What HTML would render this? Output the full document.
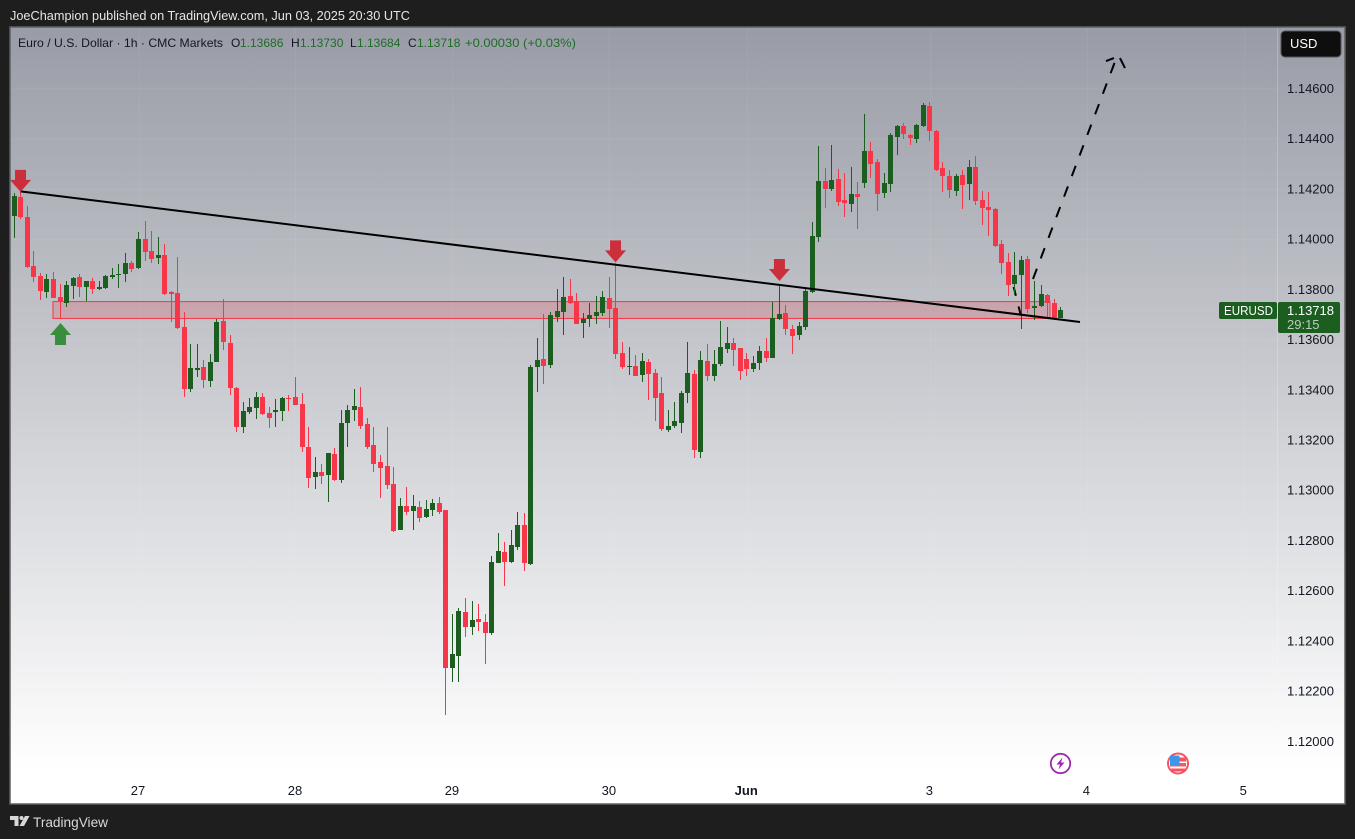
<!DOCTYPE html>
<html lang="en">
<head>
<meta charset="utf-8">
<title>EURUSD 1h chart</title>
<style>
html,body{margin:0;padding:0;background:#1e1e1e;}
body{width:1355px;height:839px;overflow:hidden;}
svg{display:block;font-family:"Liberation Sans",sans-serif;}
</style>
</head>
<body>
<svg id="chart" xmlns="http://www.w3.org/2000/svg" width="1355" height="839" viewBox="0 0 1355 839">
  <defs>
    <linearGradient id="bg" x1="0" y1="0" x2="0" y2="1">
      <stop offset="0" stop-color="#999ca6"/>
      <stop offset="0.957" stop-color="#ffffff"/>
      <stop offset="1" stop-color="#ffffff"/>
    </linearGradient>
    <clipPath id="plotClip"><rect x="11" y="28" width="1266" height="775"/></clipPath>
  </defs>
  <rect x="0" y="0" width="1355" height="839" fill="#1e1e1e"/>
  <text x="10" y="20" font-size="12.5" fill="#e6e6e6" textLength="400" lengthAdjust="spacingAndGlyphs">JoeChampion published on TradingView.com, Jun 03, 2025 20:30 UTC</text>
  <rect x="10" y="27" width="1335" height="777" fill="url(#bg)" stroke="#5f6064" stroke-width="1.5"/>
  <g id="grid"></g>
  <line x1="1277.5" y1="28" x2="1277.5" y2="803" stroke="#ffffff" stroke-opacity="0.22"/>
  <g clip-path="url(#plotClip)">
    <g id="zone"></g>
    <g id="dashes"></g>
    <g id="candles" shape-rendering="crispEdges"></g>
    <g id="trend"></g>
    <g id="arrows"></g>
  </g>
  <g id="priceAxis" font-size="13" fill="#131722"></g>
  <g id="dateAxis" font-size="13" fill="#131722"></g>

  <g font-size="12">
    <text x="18" y="47" fill="#131722" textLength="205" lengthAdjust="spacingAndGlyphs">Euro / U.S. Dollar · 1h · CMC Markets</text>
    <text x="231" y="47" fill="#131722">O</text>
    <text x="240" y="47" fill="#1f6b27">1.13686</text>
    <text x="291" y="47" fill="#131722">H</text>
    <text x="300" y="47" fill="#1f6b27">1.13730</text>
    <text x="350" y="47" fill="#131722">L</text>
    <text x="357" y="47" fill="#1f6b27">1.13684</text>
    <text x="408" y="47" fill="#131722">C</text>
    <text x="417" y="47" fill="#1f6b27">1.13718</text>
    <text x="465" y="47" fill="#1f6b27" textLength="111" lengthAdjust="spacingAndGlyphs">+0.00030 (+0.03%)</text>
  </g>

  <g>
    <rect x="1281" y="31" width="60" height="26" rx="4" fill="#0e0e0f" stroke="#55565a"/>
    <text x="1290" y="48" font-size="13" fill="#ffffff">USD</text>
  </g>

  <g>
    <rect x="1219" y="302" width="58" height="17" rx="2" fill="#1b5e20"/>
    <text x="1224" y="315" font-size="13" fill="#ffffff" textLength="49" lengthAdjust="spacingAndGlyphs">EURUSD</text>
    <rect x="1278" y="302" width="62" height="31" rx="2" fill="#1b5e20"/>
    <text x="1287" y="315" font-size="13" fill="#ffffff">1.13718</text>
    <text x="1287" y="329" font-size="13" fill="#b9cdb9">29:15</text>
  </g>

  <g>
    <circle cx="1060.5" cy="763.5" r="9.7" fill="#ffffff" stroke="#9c27b0" stroke-width="1.8"/>
    <polygon points="1062.5,757.5 1056.5,764.5 1060,764.5 1058.5,769.5 1064.5,762.5 1061,762.5" fill="#9c27b0"/>
  </g>
  <g>
    <circle cx="1178" cy="763.5" r="10" fill="#ffffff" stroke="#f7525f" stroke-width="2"/>
    <rect x="1170" y="757.5" width="16" height="4" fill="#f7525f"/>
    <rect x="1170" y="763" width="16" height="3.5" fill="#ef5b63"/>
    <rect x="1171" y="768.5" width="14" height="3" fill="#f7525f"/>
    <rect x="1170" y="755.5" width="9.5" height="9.5" fill="#3d97e8"/>
  </g>

  <g>
    <path d="M10 816h8.5v10h-4v-6h-4.5z" fill="#d8d8d8"/>
    <circle cx="21.5" cy="818" r="2" fill="#d8d8d8"/>
    <polygon points="19.5,826 25,816 29.5,816 24,826" fill="#d8d8d8"/>
    <text x="33" y="827" font-size="13.5" fill="#d8d8d8" textLength="75" lengthAdjust="spacingAndGlyphs">TradingView</text>
  </g>
</svg>
<script>
const opens = [
1.14092,1.14168,1.14088,1.13893,1.13853,1.13789,1.13841,1.13769,1.13745,1.13813,
1.13849,1.13809,1.13833,1.13801,1.13805,1.13849,1.13857,1.13861,1.13905,1.13885,
1.14001,1.13953,1.13925,1.13937,1.13789,1.13785,1.13650,1.13402,1.13478,1.13490,
1.13434,1.13510,1.13673,1.13586,1.13406,1.13251,1.13311,1.13327,1.13371,1.13307,
1.13311,1.13315,1.13367,1.13371,1.13343,1.13172,1.13052,1.13072,1.13060,1.13144,
1.13041,1.13267,1.13319,1.13331,1.13263,1.13180,1.13112,1.13096,1.13025,1.12842,
1.12937,1.12917,1.12933,1.12893,1.12921,1.12949,1.12921,1.12292,1.12340,1.12515,
1.12455,1.12487,1.12475,1.12432,1.12710,1.12754,1.12714,1.12774,1.12861,1.12706,
1.13490,1.13522,1.13498,1.13689,1.13709,1.13773,1.13753,1.13665,1.13681,1.13693,
1.13705,1.13765,1.13725,1.13546,1.13490,1.13494,1.13458,1.13510,1.13466,1.13387,
1.13240,1.13255,1.13267,1.13387,1.13462,1.13152,1.13514,1.13454,1.13502,1.13562,
1.13586,1.13566,1.13522,1.13482,1.13506,1.13554,1.13526,1.13681,1.13705,1.13642,
1.13618,1.13650,1.13789,1.14009,1.14232,1.14200,1.14240,1.14156,1.14140,1.14180,
1.14224,1.14351,1.14307,1.14184,1.14220,1.14407,1.14450,1.14415,1.14399,1.14450,
1.14530,1.14431,1.14283,1.14251,1.14192,1.14255,1.14220,1.14287,1.14156,1.14128,
1.14120,1.13981,1.13909,1.13821,1.13857,1.13921,1.13725,1.13733,1.13777,1.13745,
1.13686];
const highs = [
1.14184,1.14188,1.14132,1.13953,1.13865,1.13861,1.13869,1.13821,1.13833,1.13849,
1.13861,1.13833,1.13845,1.13833,1.13857,1.13885,1.13901,1.13945,1.13913,1.14029,
1.14072,1.14033,1.14009,1.13981,1.13793,1.13929,1.13709,1.13582,1.13582,1.13518,
1.13542,1.13681,1.13761,1.13618,1.13410,1.13351,1.13367,1.13390,1.13387,1.13331,
1.13363,1.13371,1.13379,1.13450,1.13387,1.13251,1.13132,1.13104,1.13148,1.13168,
1.13319,1.13339,1.13402,1.13410,1.13287,1.13251,1.13140,1.13251,1.13092,1.12969,
1.13013,1.12981,1.12957,1.12961,1.12965,1.12973,1.12921,1.12507,1.12531,1.12571,
1.12559,1.12547,1.12507,1.12738,1.12830,1.12794,1.12842,1.12913,1.12909,1.13498,
1.13606,1.13701,1.13709,1.13801,1.13849,1.13841,1.13785,1.13705,1.13745,1.13773,
1.13793,1.13849,1.13905,1.13590,1.13570,1.13538,1.13546,1.13522,1.13482,1.13450,
1.13319,1.13351,1.13394,1.13590,1.13478,1.13554,1.13582,1.13558,1.13673,1.13650,
1.13606,1.13566,1.13546,1.13534,1.13574,1.13606,1.13749,1.13821,1.13737,1.13658,
1.13669,1.13805,1.14068,1.14371,1.14283,1.14375,1.14279,1.14264,1.14287,1.14228,
1.14498,1.14387,1.14319,1.14264,1.14423,1.14454,1.14462,1.14419,1.14458,1.14542,
1.14546,1.14435,1.14307,1.14276,1.14260,1.14276,1.14315,1.14331,1.14192,1.14188,
1.14124,1.13997,1.13945,1.13949,1.13933,1.13933,1.13833,1.13817,1.13781,1.13761,
1.13730];
const lows = [
1.14005,1.14080,1.13885,1.13829,1.13757,1.13765,1.13765,1.13685,1.13729,1.13761,
1.13769,1.13753,1.13781,1.13797,1.13801,1.13841,1.13805,1.13829,1.13869,1.13881,
1.13913,1.13905,1.13901,1.13777,1.13669,1.13642,1.13371,1.13390,1.13450,1.13406,
1.13410,1.13510,1.13558,1.13379,1.13232,1.13228,1.13303,1.13283,1.13299,1.13248,
1.13251,1.13275,1.13315,1.13339,1.13152,1.13009,1.13005,1.13025,1.12953,1.13037,
1.13029,1.13172,1.13275,1.13244,1.13164,1.13072,1.12969,1.13005,1.12834,1.12842,
1.12901,1.12842,1.12873,1.12889,1.12897,1.12905,1.12105,1.12237,1.12237,1.12416,
1.12424,1.12439,1.12308,1.12424,1.12710,1.12619,1.12710,1.12762,1.12678,1.12702,
1.13390,1.13422,1.13486,1.13669,1.13618,1.13741,1.13661,1.13606,1.13650,1.13661,
1.13693,1.13646,1.13522,1.13482,1.13458,1.13454,1.13430,1.13359,1.13275,1.13236,
1.13232,1.13248,1.13228,1.13347,1.13128,1.13128,1.13434,1.13434,1.13494,1.13546,
1.13494,1.13438,1.13454,1.13470,1.13478,1.13510,1.13526,1.13677,1.13618,1.13542,
1.13598,1.13638,1.13785,1.13989,1.14124,1.14192,1.14132,1.14088,1.14108,1.14041,
1.14204,1.14243,1.14112,1.14164,1.14188,1.14335,1.14399,1.14375,1.14383,1.14447,
1.14391,1.14272,1.14188,1.14164,1.14172,1.14120,1.14156,1.14136,1.14056,1.14013,
1.13969,1.13861,1.13773,1.13777,1.13642,1.13705,1.13677,1.13729,1.13685,1.13677,
1.13684];
const closes = [
1.14172,1.14088,1.13889,1.13849,1.13793,1.13841,1.13765,1.13749,1.13817,1.13845,
1.13809,1.13833,1.13801,1.13809,1.13853,1.13857,1.13861,1.13905,1.13881,1.14001,
1.13949,1.13921,1.13937,1.13781,1.13781,1.13646,1.13402,1.13486,1.13486,1.13438,
1.13510,1.13669,1.13590,1.13406,1.13251,1.13315,1.13331,1.13371,1.13303,1.13287,
1.13319,1.13367,1.13363,1.13339,1.13172,1.13049,1.13072,1.13056,1.13148,1.13041,
1.13267,1.13319,1.13335,1.13255,1.13172,1.13104,1.13088,1.13021,1.12838,1.12937,
1.12913,1.12937,1.12889,1.12925,1.12949,1.12913,1.12292,1.12348,1.12519,1.12455,
1.12483,1.12475,1.12432,1.12714,1.12758,1.12714,1.12782,1.12861,1.12710,1.13490,
1.13518,1.13494,1.13697,1.13713,1.13769,1.13745,1.13661,1.13681,1.13697,1.13709,
1.13769,1.13721,1.13542,1.13490,1.13494,1.13454,1.13514,1.13462,1.13367,1.13244,
1.13255,1.13275,1.13387,1.13466,1.13160,1.13518,1.13454,1.13502,1.13570,1.13586,
1.13558,1.13474,1.13482,1.13506,1.13554,1.13526,1.13685,1.13701,1.13642,1.13614,
1.13654,1.13793,1.14013,1.14232,1.14200,1.14236,1.14148,1.14144,1.14180,1.14168,
1.14351,1.14299,1.14180,1.14224,1.14415,1.14450,1.14419,1.14403,1.14454,1.14534,
1.14431,1.14276,1.14251,1.14196,1.14251,1.14216,1.14287,1.14152,1.14124,1.14116,
1.13973,1.13905,1.13817,1.13857,1.13917,1.13721,1.13733,1.13781,1.13745,1.13681,
1.13718];

const priceTicks = [1.146,1.144,1.142,1.14,1.138,1.136,1.134,1.132,1.13,1.128,1.126,1.124,1.122,1.12];
const dateLabels = ["27","28","29","30","Jun","3","4","5"];
const dateBars = [19,43,67,91,112,140,164,188];

const trendBars = [0.96,162.96];
const trendPrices = [1.1419,1.1367];
const zoneBars = [5.92,158.37];
const zonePrices = [1.13751,1.13684];
const projectionUpBars = [155.77,168.46];
const projectionUpPrices = [1.13841,1.14717];
const projectionDownBars = [152.82,153.94];
const projectionDownPrices = [1.13809,1.13693];
const headLeftBars = [166.93,168.15];
const headLeftPrices = [1.14709,1.14721];
const headRightBars = [169.07,169.84];
const headRightPrices = [1.14721,1.14681];
const downArrowBars = [0.96,91.94,117];
const downArrowPrices = [1.14188,1.13907,1.13833];
const upArrowBars = [7.07];
const upArrowPrices = [1.13666];

const NS = "http://www.w3.org/2000/svg";
function x(bar){ return 14.25 + bar * 6.54; }
function y(price){ return (1.14952 - price) / 0.00003982; }
function make(tag, attrs, parent){
  const el = document.createElementNS(NS, tag);
  for (const k in attrs) el.setAttribute(k, attrs[k]);
  parent.appendChild(el);
  return el;
}
const grid = document.getElementById("grid");
const priceAxis = document.getElementById("priceAxis");
const dateAxis = document.getElementById("dateAxis");
const zoneLayer = document.getElementById("zone");
const dashLayer = document.getElementById("dashes");
const candleLayer = document.getElementById("candles");
const trendLayer = document.getElementById("trend");
const arrowLayer = document.getElementById("arrows");

priceTicks.forEach(function(tick){
  const gy = Math.round(y(tick)) + 0.5;
  const line = make("line", {x1:11, x2:1277, y1:gy, y2:gy, stroke:"#ffffff", "stroke-opacity":0.06}, grid);
  
  
  const label = make("text", {x:1287, y:y(tick) + 4.5}, priceAxis);
  
  
  label.textContent = tick.toFixed(5);
});

dateLabels.forEach(function(text, i){
  const px = x(dateBars[i]);
  const line = make("line", {x1:Math.round(px)+0.5, x2:Math.round(px)+0.5, y1:28, y2:803, stroke:"#ffffff", "stroke-opacity":0.06}, grid);
  
  
  const label = make("text", {x:px - 0.5, y:795, "text-anchor":"middle"}, dateAxis);
  
  
  if (text === "Jun") label.setAttribute("font-weight", "bold");
  label.textContent = text;
});

const zoneTop = y(zonePrices[0]);
const zoneBottom = y(zonePrices[1]);
const zoneRect = make("rect", {x:x(zoneBars[0]), y:zoneTop, width:x(zoneBars[1]) - x(zoneBars[0]), height:zoneBottom - zoneTop, fill:"#f23645", "fill-opacity":0.2, stroke:"#f23645", "stroke-width":1}, zoneLayer);



const up = make("line", {x1:x(projectionUpBars[0]), y1:y(projectionUpPrices[0]), x2:x(projectionUpBars[1]), y2:y(projectionUpPrices[1]), stroke:"#000", "stroke-width":2, "stroke-dasharray":"11 11"}, dashLayer);


const down = make("line", {x1:x(projectionDownBars[0]), y1:y(projectionDownPrices[0]), x2:x(projectionDownBars[1]), y2:y(projectionDownPrices[1]), stroke:"#000", "stroke-width":2, "stroke-dasharray":"9 11"}, dashLayer);


const headLeft = make("line", {x1:x(headLeftBars[0]), y1:y(headLeftPrices[0]), x2:x(headLeftBars[1]), y2:y(headLeftPrices[1]), stroke:"#000", "stroke-width":2}, dashLayer);


const headRight = make("line", {x1:x(headRightBars[0]), y1:y(headRightPrices[0]), x2:x(headRightBars[1]), y2:y(headRightPrices[1]), stroke:"#000", "stroke-width":2}, dashLayer);



opens.forEach(function(open, i){
  const close = closes[i];
  const color = close >= open ? "#1b5e20" : "#f7364a";
  const cx = Math.floor(x(i));
  const wickTop = Math.round(y(highs[i]));
  const wickBottom = Math.round(y(lows[i]));
  const bodyTop = Math.round(y(Math.max(open, close)));
  const bodyBottom = Math.round(y(Math.min(open, close)));
  const wick = make("rect", {x:cx, y:wickTop, width:1, height:Math.max(1, wickBottom - wickTop), fill:color}, candleLayer);
  
  
  const body = make("rect", {x:cx - 2, y:bodyTop, width:5, height:Math.max(1, bodyBottom - bodyTop), fill:color}, candleLayer);
  
  
});

const trend = make("line", {x1:x(trendBars[0]), y1:y(trendPrices[0]), x2:x(trendBars[1]), y2:y(trendPrices[1]), stroke:"#000", "stroke-width":2}, trendLayer);



downArrowBars.forEach(function(bar, i){
  const tx = x(bar);
  const ty = y(downArrowPrices[i]);
  const pts = [[tx,ty],[tx-10.5,ty-12],[tx-5.5,ty-12],[tx-5.5,ty-22],[tx+5.5,ty-22],[tx+5.5,ty-12],[tx+10.5,ty-12]];
  const arrow = make("polygon", {points:pts.map(function(p){return p.join(",");}).join(" "), fill:"#cc2f3c"}, arrowLayer);
  
  
});
upArrowBars.forEach(function(bar, i){
  const tx = x(bar);
  const ty = y(upArrowPrices[i]);
  const pts = [[tx,ty],[tx-10.5,ty+12],[tx-5.5,ty+12],[tx-5.5,ty+22],[tx+5.5,ty+22],[tx+5.5,ty+12],[tx+10.5,ty+12]];
  const arrow = make("polygon", {points:pts.map(function(p){return p.join(",");}).join(" "), fill:"#388e3c"}, arrowLayer);
  
  
});
</script>
</body>
</html>
